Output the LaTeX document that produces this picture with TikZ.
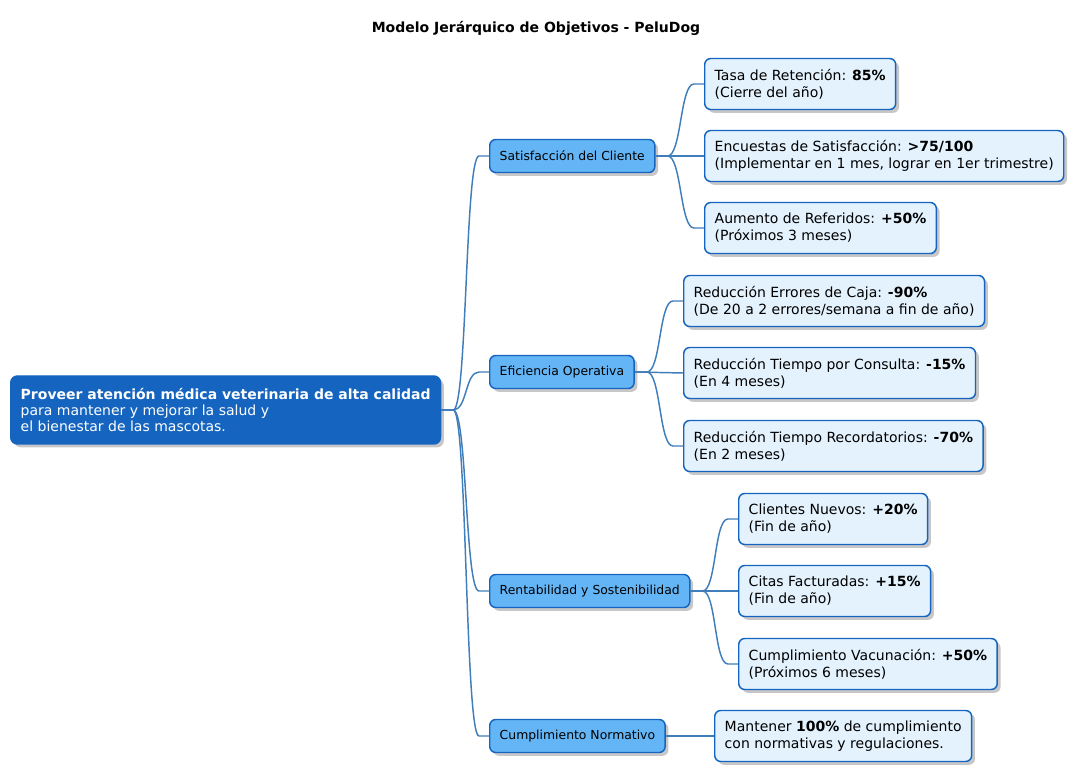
\documentclass[tikz,border=0pt]{standalone}
\usepackage{fontspec}
\setmainfont{DejaVu Sans}
\usetikzlibrary{shadows}
\definecolor{rootBlue}{HTML}{1565C0}
\definecolor{midBlue}{HTML}{64B5F6}
\definecolor{leafBlue}{HTML}{E3F2FD}
\definecolor{branchBlue}{HTML}{3F7DBB}
\newcommand{\stub}{12}
\newcommand{\bend}{14}
\newcommand{\leafFont}{\fontsize{10.5}{12.75}\selectfont}
\newcommand{\midFont}{\fontsize{9.3}{11}\selectfont}
\begin{document}
\begin{tikzpicture}[x=0.75pt,y=-0.75pt,
  box/.style={draw=rootBlue,line width=1.1pt,rounded corners=4.5pt,anchor=west,
    align=left,inner xsep=7.5pt,inner ysep=0pt,
    drop shadow={shadow xshift=2.5pt,shadow yshift=-2.5pt,opacity=0.22,fill=black}},
  rootbox/.style={box,fill=rootBlue,text=white,minimum height=51pt,rounded corners=5pt,
    font=\fontsize{10.5}{12}\selectfont},
  midbox/.style={box,fill=midBlue,minimum height=24.75pt,font=\midFont},
  leafbox/.style={box,fill=leafBlue,minimum height=38.25pt,font=\leafFont},
  branch/.style={draw=branchBlue,line width=1.1pt}]
\useasboundingbox (0,0) rectangle (1076,784);
\node (title) at (536,28) {\fontsize{10.5}{12}\selectfont\bfseries Modelo Jerárquico de Objetivos - PeluDog};
% root
\node[rootbox] (root) at (10,410) {\textbf{Proveer atención médica veterinaria de alta calidad}\\para mantener y mejorar la salud y\\el bienestar de las mascotas.};
% level 1
\node[midbox] (sat) at (489,156) {Satisfacción del Cliente};
\node[midbox] (efi) at (489,372) {Eficiencia Operativa};
\node[midbox] (rent) at (489,591) {Rentabilidad y Sostenibilidad};
\node[midbox] (cump) at (489,736) {Cumplimiento Normativo};
% leaves
\node[leafbox] (tasa) at (704,84) {Tasa de Retención: \textbf{85\%}\\(Cierre del año)};
\node[leafbox] (enc) at (704,156) {Encuestas de Satisfacción: \textbf{>75/100}\\(Implementar en 1 mes, lograr en 1er trimestre)};
\node[leafbox] (aum) at (704,228) {Aumento de Referidos: \textbf{+50\%}\\(Próximos 3 meses)};
\node[leafbox] (err) at (683,301) {Reducción Errores de Caja: \textbf{-90\%}\\(De 20 a 2 errores/semana a fin de año)};
\node[leafbox] (cons) at (683,373) {Reducción Tiempo por Consulta: \textbf{-15\%}\\(En 4 meses)};
\node[leafbox] (rec) at (683,446) {Reducción Tiempo Recordatorios: \textbf{-70\%}\\(En 2 meses)};
\node[leafbox] (cli) at (738,519) {Clientes Nuevos: \textbf{+20\%}\\(Fin de año)};
\node[leafbox] (cit) at (738,591) {Citas Facturadas: \textbf{+15\%}\\(Fin de año)};
\node[leafbox] (vac) at (738,664) {Cumplimiento Vacunación: \textbf{+50\%}\\(Próximos 6 meses)};
\node[leafbox] (mant) at (714,736) {Mantener \textbf{100\%} de cumplimiento\\con normativas y regulaciones.};
% branches
\draw[branch] (root.east) -- ++(\stub,0) .. controls +(\bend,0) and +(-\bend,0) .. ([xshift=-7.5pt]sat.west) -- (sat.west);
\draw[branch] (root.east) -- ++(\stub,0) .. controls +(\bend,0) and +(-\bend,0) .. ([xshift=-7.5pt]efi.west) -- (efi.west);
\draw[branch] (root.east) -- ++(\stub,0) .. controls +(\bend,0) and +(-\bend,0) .. ([xshift=-7.5pt]rent.west) -- (rent.west);
\draw[branch] (root.east) -- ++(\stub,0) .. controls +(\bend,0) and +(-\bend,0) .. ([xshift=-7.5pt]cump.west) -- (cump.west);
\draw[branch] (sat.east) -- ++(\stub,0) .. controls +(\bend,0) and +(-\bend,0) .. ([xshift=-7.5pt]tasa.west) -- (tasa.west);
\draw[branch] (sat.east) -- (enc.west);
\draw[branch] (sat.east) -- ++(\stub,0) .. controls +(\bend,0) and +(-\bend,0) .. ([xshift=-7.5pt]aum.west) -- (aum.west);
\draw[branch] (efi.east) -- ++(\stub,0) .. controls +(\bend,0) and +(-\bend,0) .. ([xshift=-7.5pt]err.west) -- (err.west);
\draw[branch] (efi.east) -- (cons.west);
\draw[branch] (efi.east) -- ++(\stub,0) .. controls +(\bend,0) and +(-\bend,0) .. ([xshift=-7.5pt]rec.west) -- (rec.west);
\draw[branch] (rent.east) -- ++(\stub,0) .. controls +(\bend,0) and +(-\bend,0) .. ([xshift=-7.5pt]cli.west) -- (cli.west);
\draw[branch] (rent.east) -- (cit.west);
\draw[branch] (rent.east) -- ++(\stub,0) .. controls +(\bend,0) and +(-\bend,0) .. ([xshift=-7.5pt]vac.west) -- (vac.west);
\draw[branch] (cump.east) -- (mant.west);
\end{tikzpicture}
\end{document}
